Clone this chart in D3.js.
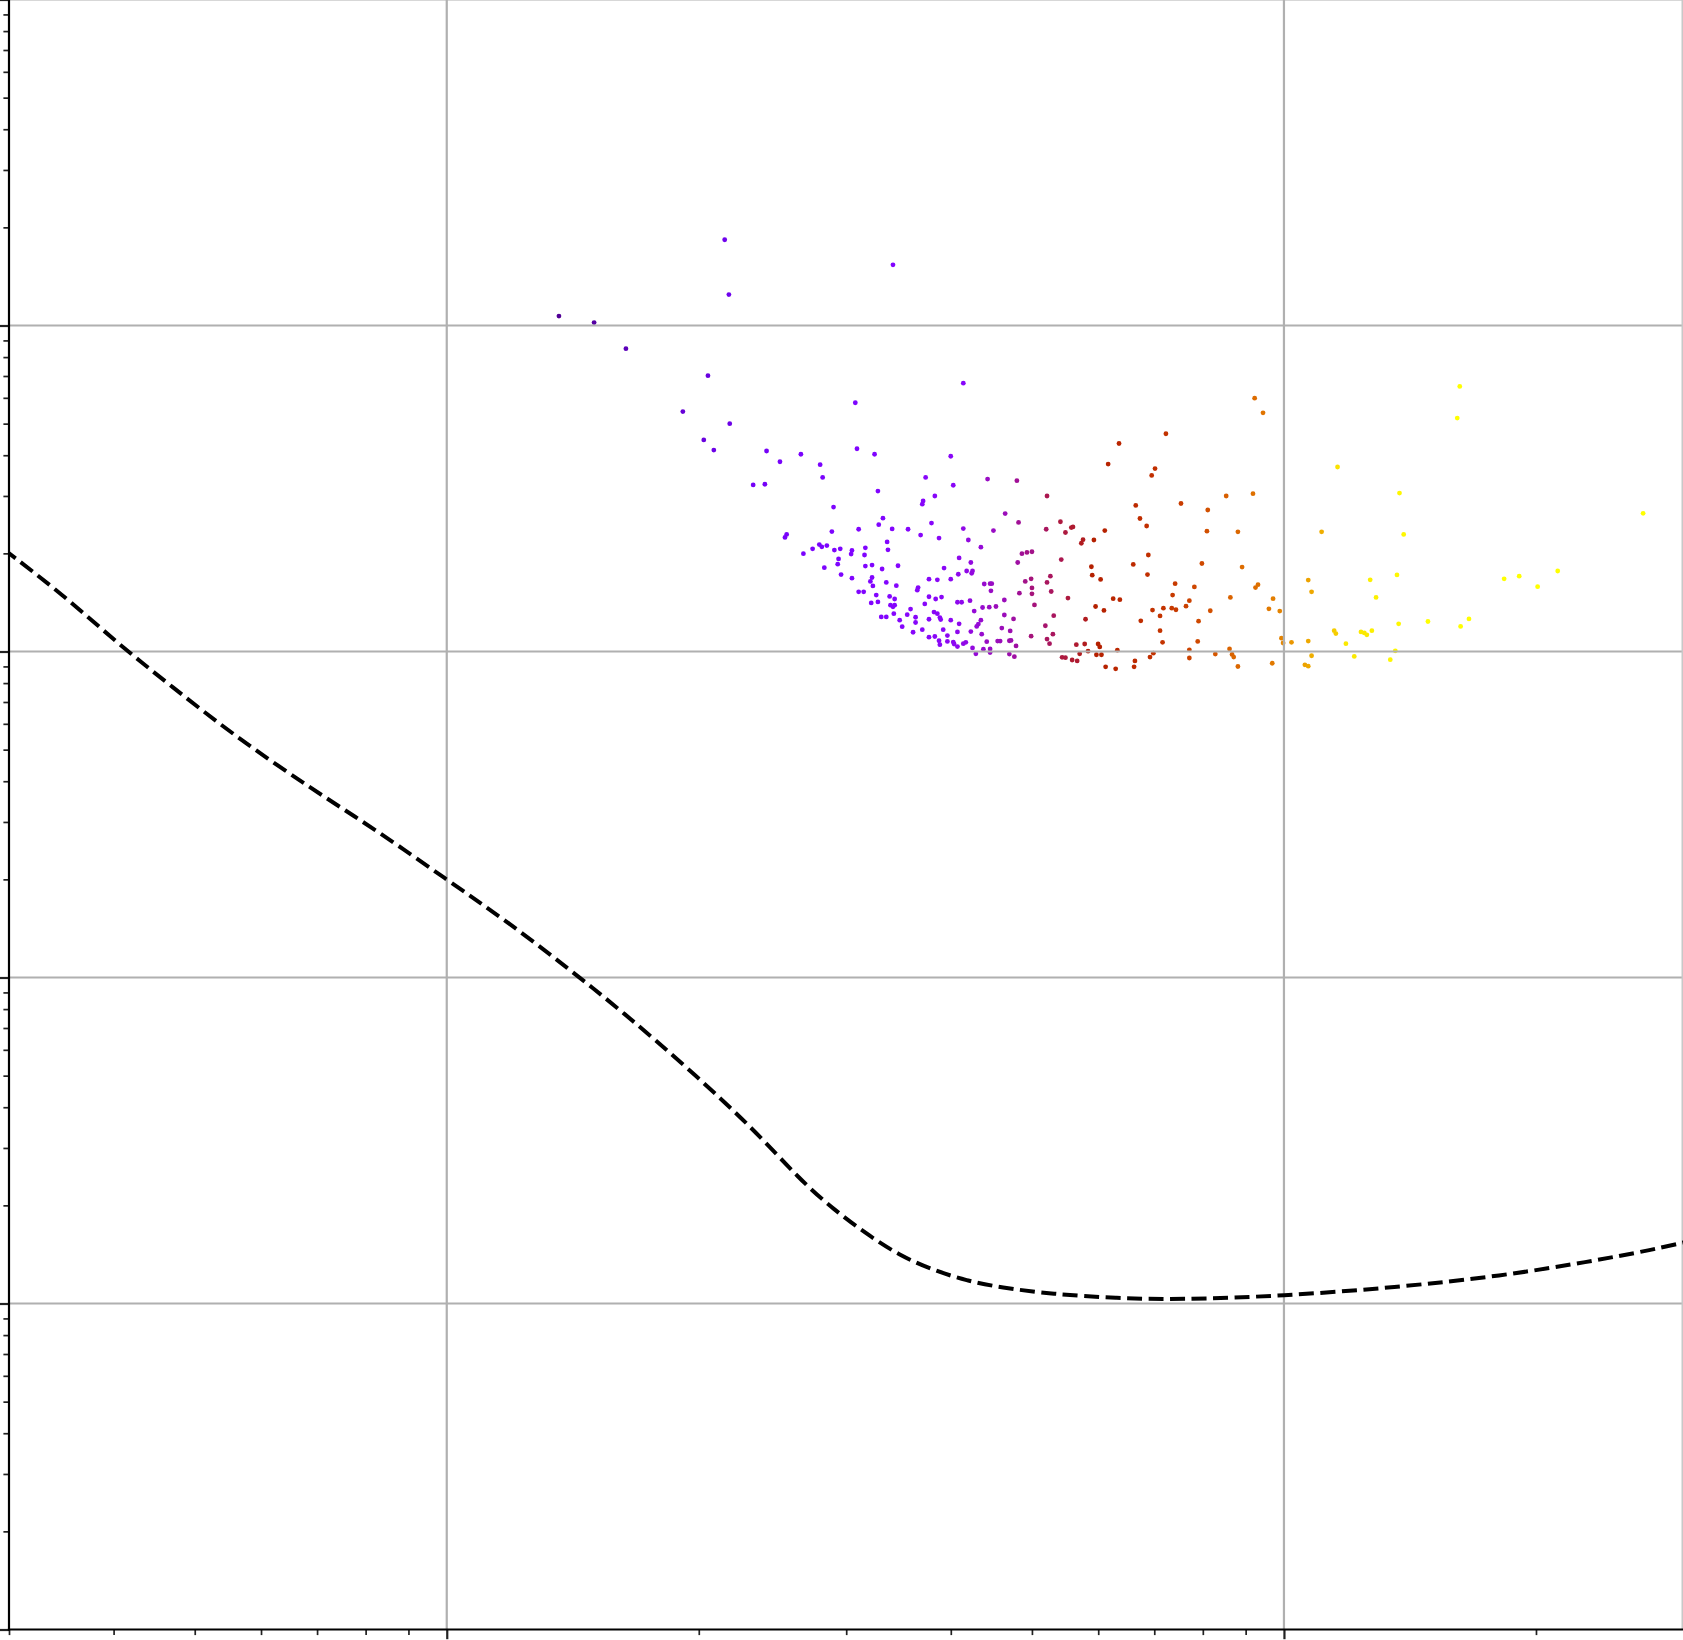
<!DOCTYPE html>
<html><head><meta charset="utf-8">
<script src="https://cdn.jsdelivr.net/npm/d3@7"></script>
<style>html,body{margin:0;padding:0;background:#fff;}svg{display:block;}</style>
</head><body>
<script>
// Scatter points: log10 of x value, log10 of y value, colour value (0..1, gnuplot colormap)
const pointLogX = [
.134,.176,.214,.332,.337,.312,.282,.338,.307,.319,.366,.380,.382,
.488,.533,.490,.423,.398,.446,.449,.511,.515,.462,.521,.516,.460,.492,.532,.551,.406,.404,.426,.437,.445,.448,.454,.463,.470,.484,.483,.500,.499,.526,.527,.468,.467,.451,.500,.508,.520,.539,.471,.484,.508,.506,.509,.525,.537,.563,.562,.492,.498,.513,.529,.535,.507,.515,.530,.533,.535,.519,.525,.534,.541,.544,.550,.554,.560,.560,.557,
.617,.602,.572,.605,.646,.681,.583,.569,.568,.717,
.667,.579,.683,.566,.588,.617,.653,.623,.638,.733,
.716,.739,.687,.693,.699,.734,.682,.612,.626,.594,
.611,.621,.627,.628,.576,.586,.602,.721,.717,.698,
.691,.642,.649,.651,.650,.699,.699,.722,.571,.576,
.584,.591,.610,.615,.625,.666,.684,.742,.702,.582,
.586,.589,.590,.576,.602,.612,.630,.640,.648,.656,
.666,.725,.638,.635,.633,.626,.610,.639,.568,.593,
.598,.663,.673,.677,.715,.717,.720,.724,.698,.576,
.583,.588,.589,.598,.605,.606,.610,.617,.620,.628,
.632,.641,.645,.649,.649,.658,.661,.672,.674,.680,
.672,.678,.735,.739,
.859,.803,.790,.846,.842,.931,.877,.909,.823,.828,
.836,.748,.746,.908,.945,.786,.760,.758,.773,.838,
.820,.837,.902,.950,.770,.771,.781,.870,.893,.867,
.936,.887,.796,.804,.775,.785,.843,.856,.866,.871,
.883,.912,.852,.763,.829,.898,.852,.855,.897,.752,
.762,.778,.780,.766,.801,.756,.776,.782,.844,.840,
.887,.935,.938,.940,.918,.887,.747,.753,.822,.787,
.799,.821,.945,
.965,.975,.963,1.064,1.210,1.207,1.138,1.045,1.143,1.429,
.966,.969,1.029,1.033,1.103,1.135,1.110,1.263,1.281,1.303,
1.327,.987,.982,.995,1.060,1.062,1.074,1.092,1.096,1.099,
1.105,1.137,1.172,1.211,1.221,.997,.999,1.009,1.029,1.033,
1.025,1.029,.986,1.084,1.127,1.133
];
const pointLogY = [
1.029,1.009,.929,1.263,1.095,.846,.736,.699,.649,.618,.511,.513,.615,
.763,1.186,.622,.605,.582,.573,.534,.605,.492,.443,.409,.389,.368,.375,.376,.375,.359,.350,.300,.315,.328,.321,.325,.311,.315,.310,.299,.318,.296,.336,.312,.284,.268,.257,.262,.265,.253,.263,.236,.225,.227,.215,.201,.212,.202,.196,.188,.183,.183,.173,.169,.161,.149,.152,.142,.137,.142,.106,.106,.116,.096,.076,.113,.130,.105,.089,.059,
.823,.599,.534,.510,.529,.524,.477,.462,.452,.477,
.423,.394,.396,.357,.348,.377,.371,.342,.320,.398,
.375,.365,.300,.304,.306,.282,.273,.287,.273,.256,
.237,.247,.240,.247,.222,.220,.222,.231,.212,.223,
.215,.207,.208,.208,.186,.195,.177,.184,.146,.168,
.161,.167,.151,.151,.156,.158,.179,.164,.143,.121,
.116,.104,.098,.099,.096,.085,.124,.135,.136,.138,
.112,.110,.096,.084,.077,.061,.060,.053,.067,.067,
.049,.072,.063,.100,.079,.038,.024,.053,.047,.044,
.046,.033,.021,.031,.029,.023,.015,.024,.028,.011,
-.007,.007,.030,.008,-.003,.032,.032,.033,.034,.017,
-.008,-.016,-.018,-.019,
.668,.638,.575,.561,.540,.477,.454,.434,.448,.408,
.385,.382,.380,.369,.367,.371,.343,.332,.342,.296,
.267,.236,.270,.259,.260,.234,.221,.208,.198,.173,
.166,.156,.162,.159,.138,.126,.127,.133,.133,.128,
.139,.125,.109,.099,.094,.093,.064,.028,.031,.021,
.023,.023,.014,.001,.004,-.007,-.010,-.010,-.005,-.017,
.005,.008,-.009,-.017,-.008,-.020,-.026,-.029,-.029,-.047,
-.053,-.047,-.046,
.777,.732,.484,.566,.813,.716,.486,.367,.359,.424,
.196,.205,.219,.183,.220,.235,.166,.223,.231,.199,
.247,.162,.131,.124,.064,.055,.024,.060,.057,.051,
.064,.085,.092,.077,.100,.041,.026,.028,.032,-.013,
-.041,-.045,-.036,-.015,-.025,.002
];
const pointTone = [
.10,.11,.13,.19,.19,.17,.16,.18,.17,.18,.21,.21,.21,
.24,.26,.25,.23,.22,.23,.23,.25,.25,.24,.25,.25,.24,.25,.26,.27,.22,.22,.23,.23,.23,.23,.24,.24,.24,.25,.25,.25,.25,.26,.26,.24,.24,.24,.25,.25,.26,.27,.24,.25,.25,.25,.26,.26,.27,.28,.28,.25,.25,.26,.26,.27,.26,.26,.27,.27,.27,.26,.26,.27,.27,.27,.28,.28,.28,.28,.28,
.28,.29,.28,.29,.36,.40,.28,.28,.28,.45,
.37,.28,.40,.28,.29,.32,.36,.33,.34,.46,
.44,.46,.40,.41,.41,.45,.39,.31,.33,.29,
.31,.32,.33,.33,.28,.29,.30,.44,.44,.42,
.41,.35,.36,.36,.36,.42,.42,.44,.28,.28,
.29,.29,.31,.31,.33,.37,.40,.46,.42,.29,
.29,.29,.29,.28,.30,.31,.34,.35,.36,.37,
.37,.44,.35,.34,.34,.33,.31,.35,.28,.29,
.30,.37,.38,.39,.43,.44,.44,.44,.42,.28,
.29,.29,.29,.30,.30,.30,.31,.32,.32,.33,
.34,.35,.36,.36,.36,.37,.37,.38,.38,.39,
.38,.39,.46,.46,
.58,.53,.52,.57,.57,.72,.62,.68,.55,.56,
.57,.47,.47,.68,.74,.51,.48,.48,.50,.57,
.55,.57,.66,.75,.50,.50,.51,.61,.65,.61,
.73,.64,.53,.53,.50,.51,.58,.59,.61,.61,
.63,.68,.59,.48,.56,.66,.59,.59,.66,.47,
.48,.50,.50,.49,.53,.48,.50,.51,.58,.57,
.64,.73,.73,.74,.70,.64,.47,.47,.55,.51,
.53,.55,.74,
.75,.77,.76,.96,1,1,.99,.88,.99,1,
.75,.76,.86,.87,.98,.99,.98,1,1,1,
1,.79,.78,.80,.93,.93,.97,.97,.97,.97,
.98,.99,1,1,1,.80,.81,.84,.87,.88,
.86,.87,.78,.97,.99,.99
];
// Dashed reference curve: log10 x, log10 y
const curveLogX = [-.540,-.457,-.392,-.328,-.258,-.162,-.085,.000,.069,.146,.210,.287,.364,.422,.462,.502,.541,.581,.621,.661,.723,.800,.877,.998,1.133,1.261,1.364,1.441,1.490];
const curveLogY = [.335,.172,.022,-.108,-.250,-.421,-.546,-.700,-.822,-.974,-1.105,-1.276,-1.458,-1.621,-1.711,-1.788,-1.853,-1.898,-1.930,-1.951,-1.971,-1.984,-1.988,-1.977,-1.951,-1.915,-1.872,-1.835,-1.805];
// Axis ticks
const xMajorTicks = [1, 10];
const xMinorTicks = [0.3,0.4,0.5,0.6,0.7,0.8,0.9,2,3,4,5,6,7,8,9,20,30];
const yMajorTicks = [1e-3,1e-2,1e-1,1,10,100];
const yGridTicks = [1e-2,1e-1,1,10,100];
const yMinorTicks = [];
[1e-3,1e-2,1e-1,1,10].forEach(b => { for (let k = 2; k <= 9; k++) yMinorTicks.push(b * k); });

const W = 1683, H = 1640;
const x = d3.scaleLog().domain([0.3, 30]).range([9, 1683.4]);
const y = d3.scaleLog().domain([1e-3, 1e2]).range([1629.5, -0.5]);

const svg = d3.select('body').append('svg').attr('width', W).attr('height', H);
svg.append('rect').attr('width', W).attr('height', H).attr('fill', '#fff');
svg.append('defs').append('clipPath').attr('id', 'plot')
  .append('rect').attr('x', x(0.3)).attr('y', 0).attr('width', W - x(0.3)).attr('height', y(1e-3));

function gnuplot(t) {
  const r = Math.sqrt(t), g = t * t * t, b = Math.max(0, Math.sin(2 * Math.PI * t));
  return d3.rgb(Math.round(r * 255), Math.round(g * 255), Math.round(b * 255)).toString();
}

const n = Math.min(pointLogX.length, pointLogY.length, pointTone.length);
const pts = d3.range(n).map(i => ({ x: Math.pow(10, pointLogX[i]), y: Math.pow(10, pointLogY[i]), c: pointTone[i] }));

svg.append('g').selectAll('circle').data(pts).join('circle')
  .attr('cx', d => x(d.x)).attr('cy', d => y(d.y)).attr('r', 2.4)
  .attr('fill', d => gnuplot(d.c));

// grid
const grid = svg.append('g').attr('stroke', '#b0b0b0').attr('stroke-width', 2.2);
grid.selectAll('line.gx').data(xMajorTicks).join('line').attr('class', 'gx')
  .attr('x1', d => x(d)).attr('x2', d => x(d)).attr('y1', y(1e2)).attr('y2', y(1e-3));
grid.selectAll('line.gy').data(yGridTicks).join('line').attr('class', 'gy')
  .attr('y1', d => y(d)).attr('y2', d => y(d)).attr('x1', x(0.3)).attr('x2', x(30));
// light frame at the right edge
svg.append('line').attr('x1', W - 0.75).attr('x2', W - 0.75).attr('y1', 0).attr('y2', y(1e-3))
  .attr('stroke', '#c8c8c8').attr('stroke-width', 1.5);

// dashed curve
const curve = curveLogX.map((v, i) => [Math.pow(10, v), Math.pow(10, curveLogY[i])]);
const line = d3.line().x(d => x(d[0])).y(d => y(d[1])).curve(d3.curveBasis);
svg.append('path').datum(curve).attr('d', line).attr('fill', 'none')
  .attr('clip-path', 'url(#plot)')
  .attr('stroke', '#000').attr('stroke-width', 4).attr('stroke-dasharray', '15,6.5')
  .attr('stroke-dashoffset', 10);

// axes
function styleAxis(g, w) {
  g.select('.domain').remove();
  g.selectAll('line').attr('stroke', '#222').attr('stroke-width', w);
  g.selectAll('text').remove();
}
const y0 = y(1e-3), x0 = x(0.3);
svg.append('g').attr('transform', `translate(${x0},0)`)
  .call(d3.axisLeft(y).tickValues(yMajorTicks).tickSize(9.7).tickFormat(''))
  .call(g => styleAxis(g, 2.2));
svg.append('g').attr('transform', `translate(${x0},0)`)
  .call(d3.axisLeft(y).tickValues(yMinorTicks).tickSize(5.6).tickFormat(''))
  .call(g => styleAxis(g, 1.7));
svg.append('g').attr('transform', `translate(0,${y0})`)
  .call(d3.axisBottom(x).tickValues(xMajorTicks).tickSize(9.7).tickFormat(''))
  .call(g => styleAxis(g, 2.2));
svg.append('g').attr('transform', `translate(0,${y0})`)
  .call(d3.axisBottom(x).tickValues(xMinorTicks).tickSize(5.6).tickFormat(''))
  .call(g => styleAxis(g, 1.7));

// spines
svg.append('line').attr('x1', x0).attr('x2', x0).attr('y1', 0).attr('y2', y0 + 1.1)
  .attr('stroke', '#000').attr('stroke-width', 2.2);
svg.append('line').attr('x1', x0 - 1.1).attr('x2', W).attr('y1', y0).attr('y2', y0)
  .attr('stroke', '#000').attr('stroke-width', 2.2);
</script>
</body></html>
